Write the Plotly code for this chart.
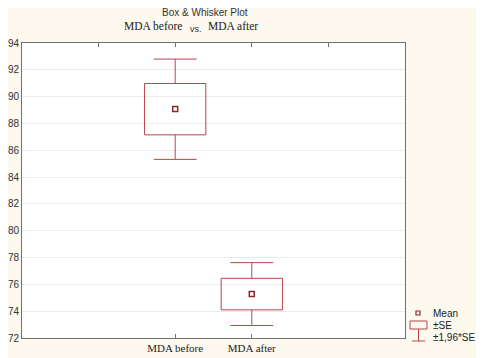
import plotly.graph_objects as go

categories = ["MDA before", "MDA after"]
positions = [2, 3]
means = [89.07, 75.28]
se_low = [87.15, 74.1]
se_high = [90.98, 76.45]
ci_low = [85.32, 72.93]
ci_high = [92.8, 77.62]
y_ticks = [72, 74, 76, 78, 80, 82, 84, 86, 88, 90, 92, 94]

box_color = "#B5474B"
mean_color = "#8B2A2E"
box_half = 0.4
cap_half = 0.28

bx, by, wx, wy = [], [], [], []
for p, lo, hi, cl, ch in zip(positions, se_low, se_high, ci_low, ci_high):
    bx += [p - box_half, p + box_half, p + box_half, p - box_half, p - box_half, None]
    by += [lo, lo, hi, hi, lo, None]
    wx += [p, p, None, p, p, None, p - cap_half, p + cap_half, None, p - cap_half, p + cap_half, None]
    wy += [hi, ch, None, lo, cl, None, ch, ch, None, cl, cl, None]

fig = go.Figure()
fig.add_trace(go.Scatter(x=bx, y=by, mode="lines", line=dict(color=box_color, width=1),
                         showlegend=False, hoverinfo="skip"))
fig.add_trace(go.Scatter(x=wx, y=wy, mode="lines", line=dict(color=box_color, width=1),
                         showlegend=False, hoverinfo="skip"))
fig.add_trace(go.Scatter(
    x=positions, y=means, mode="markers",
    marker=dict(symbol="square-open", size=5, color=mean_color, line=dict(width=1.5)),
    showlegend=False, hoverinfo="skip",
))
fig.add_trace(go.Scatter(x=[0, 5], y=[None, None], xaxis="x2", showlegend=False, hoverinfo="skip"))

# page body has an 8px margin, so the figure is shifted by (8, 8)
OFF = 8
PL, PR, PT, PB = 22, 405, 43, 338  # plot area in window pixels

axis_line = "#707070"
fig.update_layout(
    width=484 - OFF, height=358 - OFF,
    margin=dict(l=PL - OFF, r=484 - PR, t=PT - OFF, b=358 - PB),
    paper_bgcolor="#FDF9EF", plot_bgcolor="#FFFFFF",
    xaxis=dict(range=[0, 5], tickvals=positions, ticktext=categories,
               ticks="inside", ticklen=4, tickcolor=axis_line,
               showline=True, linecolor=axis_line, linewidth=1, mirror=False,
               showgrid=False, zeroline=False, automargin=False,
               tickfont=dict(family="Liberation Serif", size=11, color="#222222")),
    xaxis2=dict(range=[0, 5], overlaying="x", side="top", tickvals=[1, 2, 3, 4],
                showticklabels=False, ticks="inside", ticklen=4, tickcolor=axis_line,
                showline=True, linecolor=axis_line, linewidth=1, showgrid=False,
                zeroline=False, automargin=False),
    yaxis=dict(range=[72, 94], tickvals=y_ticks, ticks="", showline=True,
               linecolor=axis_line, linewidth=1, mirror=True, automargin=False,
               showgrid=True, gridcolor="#EBEBEB", gridwidth=1, zeroline=False,
               tickfont=dict(family="Liberation Sans", size=10, color="#333333")),
    font=dict(family="Liberation Sans"),
)

def px(x):
    return (x - PL) / (PR - PL)

def py(y):
    return 1 - (y - PT) / (PB - PT)

ann = [
    dict(text="Box & Whisker Plot", x=205, y=12, font=dict(family="Liberation Sans", size=10, color="#333333")),
    dict(text="MDA before", x=153, y=26, font=dict(family="Liberation Serif", size=11.5, color="#222222")),
    dict(text="vs.", x=196, y=29, font=dict(family="Liberation Sans", size=9, color="#333333")),
    dict(text="MDA after", x=233, y=26, font=dict(family="Liberation Serif", size=11.5, color="#222222")),
    dict(text="Mean", x=431, y=313, xanchor="left", font=dict(family="Liberation Sans", size=10, color="#222222")),
    dict(text="±SE", x=431, y=325, xanchor="left", font=dict(family="Liberation Sans", size=10, color="#222222")),
    dict(text="±1,96*SE", x=431, y=337, xanchor="left", font=dict(family="Liberation Sans", size=10, color="#222222")),
]
annotations = []
for a in ann:
    annotations.append(dict(xref="paper", yref="paper", showarrow=False,
                            x=px(a["x"]), y=py(a["y"]),
                            text=a["text"], font=a["font"],
                            xanchor=a.get("xanchor", "center"), yanchor="middle"))
fig.update_layout(annotations=annotations)

shapes = [
    dict(type="rect", x0=px(416), x1=px(420), y0=py(315), y1=py(311), line=dict(color=mean_color, width=1.2)),
    dict(type="rect", x0=px(410), x1=px(427), y0=py(329), y1=py(321), line=dict(color=box_color, width=1)),
    dict(type="line", x0=px(418.5), x1=px(418.5), y0=py(329), y1=py(341), line=dict(color=box_color, width=1)),
    dict(type="line", x0=px(412), x1=px(425), y0=py(341), y1=py(341), line=dict(color=box_color, width=1)),
]
for s in shapes:
    s.update(xref="paper", yref="paper")
fig.update_layout(shapes=shapes)

fig.write_html("out.html")
